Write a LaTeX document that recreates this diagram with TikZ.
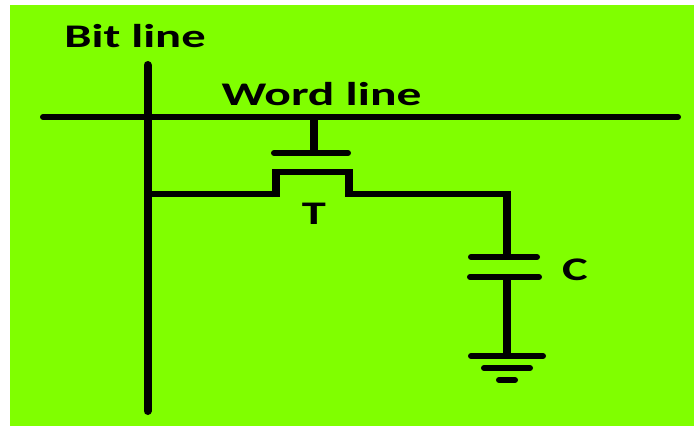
\documentclass[tikz,border=0pt]{standalone}
\usepackage{fontspec}
\setmainfont{Carlito}
\tikzset{
  hwire/.style={line width=6pt,line cap=round,black},
  vwire/.style={line width=8pt,line cap=round,black},
  hseg/.style={line width=6pt,line cap=butt,black},
  vseg/.style={line width=8pt,line cap=butt,black},
  lbl/.style={font=\bfseries\fontsize{33}{35}\selectfont,text=black,inner sep=0pt,anchor=base,xscale=1.47},
}
\definecolor{chartreuse}{RGB}{128,255,0}
\begin{document}
\begin{tikzpicture}[x=1pt,y=-1pt]
\useasboundingbox (0,0) rectangle (694,426);
\fill[chartreuse] (9.5,4.5) rectangle (694,426);
% named points
\coordinate (bt) at (147.5,65);
\coordinate (bb) at (147.5,411);
\coordinate (wl) at (43,117);
\coordinate (wr) at (678,117);
\coordinate (wg) at (314,117);
\coordinate (gc) at (314,153);
\coordinate (gl) at (274,153);
\coordinate (gr) at (348,153);
\coordinate (bj) at (147.5,194);
\coordinate (sb) at (276,194);
\coordinate (st) at (276,172);
\coordinate (dt) at (349,172);
\coordinate (db) at (349,194);
\coordinate (cc) at (507,194);
\coordinate (p1c) at (507,257);
\coordinate (p1l) at (471,257);
\coordinate (p1r) at (537,257);
\coordinate (p2c) at (507,277);
\coordinate (p2l) at (470,277);
\coordinate (p2r) at (539,277);
\coordinate (g1c) at (507,356);
\coordinate (g1l) at (471,356);
\coordinate (g1r) at (543,356);
\coordinate (g2l) at (484,368);
\coordinate (g2r) at (530,368);
\coordinate (g3l) at (499,380);
\coordinate (g3r) at (515,380);
% wires
\draw[vwire] (bt) -- (bb);
\draw[hwire] (wl) -- (wr);
\draw[vseg] (wg) -- (gc);
\draw[hwire] (gl) -- (gr);
\draw[hseg,shorten >=-4pt] (bj) -- (sb);
\draw[vseg,shorten <=-3pt,shorten >=-3pt] (sb) -- (st);
\draw[hseg,shorten <=-4pt,shorten >=-4pt] (st) -- (dt);
\draw[vseg,shorten <=-3pt,shorten >=-3pt] (dt) -- (db);
\draw[hseg,shorten >=-4pt] (db) -- (cc);
\draw[vseg,shorten <=-3pt] (cc) -- (p1c);
\draw[hwire] (p1l) -- (p1r);
\draw[hwire] (p2l) -- (p2r);
\draw[vseg] (p2c) -- (g1c);
\draw[hwire] (g1l) -- (g1r);
\draw[hwire] (g2l) -- (g2r);
\draw[hwire] (g3l) -- (g3r);
% labels
\node[lbl] (bitlabel) at (135,47) {Bit line};
\node[lbl,xscale=1.02] (wordlabel) at (321.5,105) {Word line};
\node[lbl] (tlabel) at (314,224) {T};
\node[lbl] (clabel) at (575,280) {C};
\end{tikzpicture}
\end{document}
